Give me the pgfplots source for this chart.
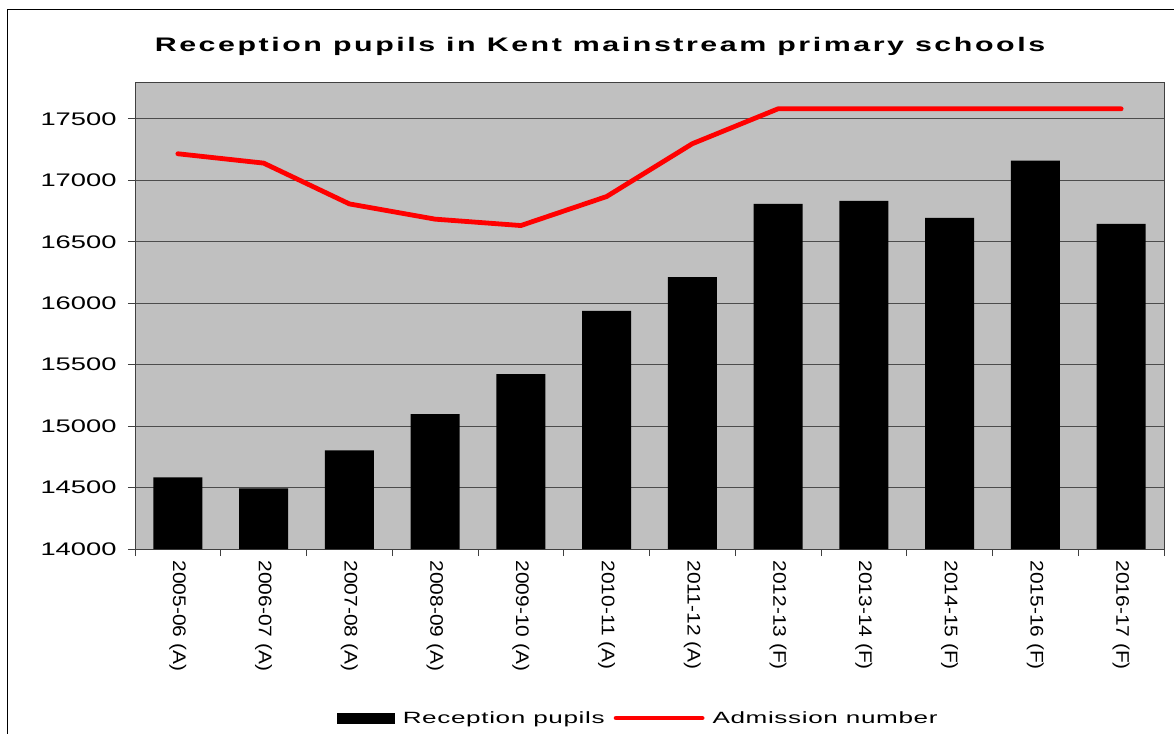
\documentclass[border=0pt]{standalone}
\usepackage{fontspec}
\setmainfont{Liberation Sans}
\newfontfamily\yfont{Liberation Sans}[FakeStretch=1.5]
\newfontfamily\xfont{Liberation Sans}[FakeStretch=1.15]
\newfontfamily\legfont{Liberation Sans}[FakeStretch=1.6, LetterSpace=4]
\newfontfamily\titlefont{Liberation Sans}[FakeStretch=1.55, LetterSpace=13]
\usepackage{pgfplots}
\pgfplotsset{compat=1.18}
\definecolor{plotgray}{RGB}{192,192,192}
\definecolor{admred}{RGB}{255,0,0}

% columns: category index, reception pupils, admission number
\pgfplotstableread{
x pupils admission
0  14582 17216
1  14494 17140
2  14803 16808
3  15097 16684
4  15423 16632
5  15938 16868
6  16213 17298
7  16808 17582
8  16833 17582
9  16694 17582
10 17160 17582
11 16645 17582
}\kentdata

\begin{document}
\begin{tikzpicture}
% page = 1174 x 733 px, 1px = 1pt, origin at plot area's lower left (135,549)
\path[use as bounding box] (-135pt,-184pt) rectangle (1039pt,549pt);
\draw[black, line width=1pt] (-127pt,539pt) rectangle (1100pt,-300pt);
\begin{axis}[
    scale only axis,
    width=1029pt,
    height=467pt,
    xmin=-0.5, xmax=11.5,
    ymin=14000, ymax=17800,
    axis background/.style={fill=plotgray},
    axis line style={draw=black!75, line width=0.8pt},
    ytick={14000,14500,...,17500},
    scaled y ticks=false,
    yticklabel={\pgfmathprintnumber[fixed,precision=0,set thousands separator={}]{\tick}},
    ymajorgrids=true,
    grid style={draw=black!70, line width=0.9pt},
    xtick={-0.5,0.5,...,11.5},
    xticklabels={},
    extra x ticks={0,1,...,11},
    extra x tick labels={2005-06 (A),2006-07 (A),2007-08 (A),2008-09 (A),2009-10 (A),2010-11 (A),2011-12 (A),2012-13 (F),2013-14 (F),2014-15 (F),2015-16 (F),2016-17 (F)},
    extra x tick style={major tick length=0pt, grid=none,
        xticklabel style={yshift=-8pt, rotate=-90, anchor=west, font=\xfont\fontsize{18.2}{20}\selectfont}},
    xtick pos=bottom, ytick pos=left,
    tick align=outside,
    major tick length=7pt,
    tick style={draw=black!75, line width=0.8pt},
    yticklabel style={xshift=-8pt, font=\yfont\fontsize{18.2}{20}\selectfont},
    /pgf/number format/assume math mode=true,
    legend columns=2,
    legend style={at={(axis description cs:0.489,-0.362)}, anchor=center,
        draw=none, fill=none, font=\legfont\fontsize{16.3}{18}\selectfont,
        /tikz/every odd column/.append style={column sep=6pt},
        /tikz/every even column/.append style={column sep=7pt}},
]
\addplot[ybar, bar width=0.57, bar shift=0pt, fill=black, draw=none,
    legend image code/.code={\fill[black] (0pt,-5.5pt) rectangle (58pt,5.5pt);}]
    table[x=x, y=pupils] {\kentdata};
\addlegendentry{Reception pupils}
\addplot[admred, line width=4.8pt, line join=round, line cap=round, mark=none,
    legend image code/.code={\draw[admred, line width=4.8pt, line cap=round] (0pt,0pt) -- (86pt,0pt);}]
    table[x=x, y=admission] {\kentdata};
\addlegendentry{Admission number}
\end{axis}
\node[anchor=base, font=\titlefont\bfseries\fontsize{19.6}{24}\selectfont] at (465pt,497pt)
    {Reception pupils in Kent mainstream primary schools};
\end{tikzpicture}
\end{document}
